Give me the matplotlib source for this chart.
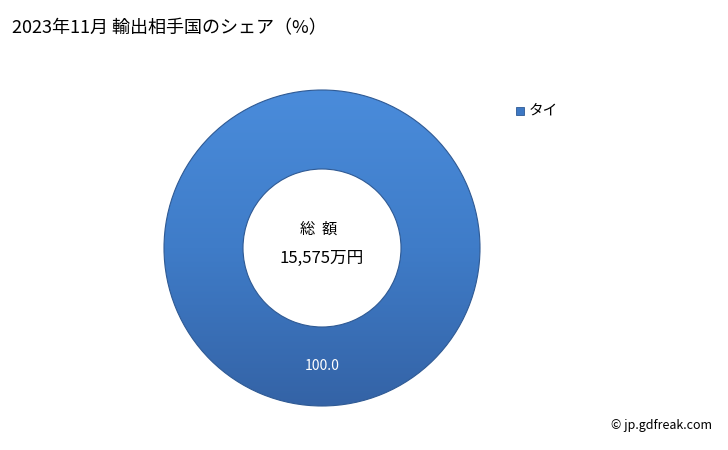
import numpy as np
import matplotlib
matplotlib.use("Agg")
import matplotlib.pyplot as plt
from matplotlib.colors import LinearSegmentedColormap

plt.rcParams['font.family'] = ['Noto Sans CJK JP', 'DejaVu Sans']

title = "2023年11月 輸出相手国のシェア（%）"
countries = ["タイ"]
shares = [100.0]
total_label = "15,575万円"

fig = plt.figure(figsize=(7.28, 4.5), dpi=100)
ax = fig.add_axes([0, 0, 1, 1])

cx, cy, r = 322, 248, 158
wedges, _ = ax.pie(shares, center=(cx, cy), radius=r, startangle=90,
                   counterclock=False, wedgeprops=dict(width=r * 0.5, linewidth=0))
ax.set_xlim(0, 728)
ax.set_ylim(450, 0)
ax.set_aspect('equal')
ax.axis('off')

# vertical gradient clipped to the ring
cmap = LinearSegmentedColormap.from_list("g", ["#4a8cdb", "#3f7cc8", "#3463a6"])
grad = np.linspace(0, 1, 256).reshape(-1, 1)
for w in wedges:
    w.set_facecolor("none")
    im = ax.imshow(grad, cmap=cmap, extent=(cx - r, cx + r, cy + r, cy - r),
                   aspect='auto', zorder=1)
    im.set_clip_path(w)
    w.set_edgecolor("#2f5a94")
    w.set_linewidth(0.8)
    w.set_zorder(2)

ax.text(cx, cy + 118, f"{shares[0]:.1f}", color="white", fontsize=10,
        ha="center", va="center", zorder=3)
ax.text(cx - 3, cy - 19, "総  額", fontsize=11, ha="center", va="center", zorder=3)
ax.text(cx, cy + 10, total_label, fontsize=12, ha="center", va="center", zorder=3)

fig.text(12 / 728, 1 - 28 / 450, title, fontsize=13, ha="left", va="center")

# legend
ax.add_patch(plt.Rectangle((516, 107), 8, 8, facecolor="#3d78c4",
                           edgecolor="#2f5a94", linewidth=0.6, zorder=3))
ax.text(529, 111, countries[0], fontsize=10.5, ha="left", va="center")

fig.text(712 / 728, 1 - 425 / 450, "© jp.gdfreak.com", fontsize=9,
         ha="right", va="center")

fig.savefig("out.png", dpi=100)
